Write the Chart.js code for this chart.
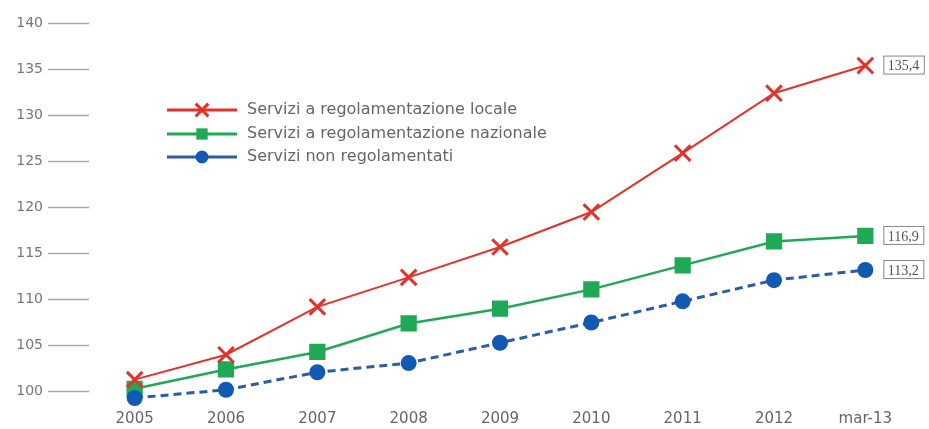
<!DOCTYPE html>
<html>
<head>
<meta charset="utf-8">
<script src="https://cdn.jsdelivr.net/npm/chart.js@4/dist/chart.umd.min.js"></script>
<style>
html,body{margin:0;padding:0;background:#fff;}
#wrap{width:929px;height:429px;position:relative;}
</style>
</head>
<body>
<div id="wrap"><canvas id="c" width="929" height="429"></canvas></div>
<script>
const categories = ["2005","2006","2007","2008","2009","2010","2011","2012","mar-13"];
const seriesNames = ["Servizi a regolamentazione locale","Servizi a regolamentazione nazionale","Servizi non regolamentati"];
const locale    = [101.3, 104.0, 109.2, 112.4, 115.7, 119.5, 125.9, 132.4, 135.4];
const nazionale = [100.3, 102.4, 104.3, 107.4, 109.0, 111.1, 113.7, 116.3, 116.9];
const nonRegol  = [99.3, 100.2, 102.1, 103.1, 105.3, 107.5, 109.8, 112.1, 113.2];
const endLabels = ["135,4","116,9","113,2"];
const yTicks = [100,105,110,115,120,125,130,135,140];

const RED = '#e3312b', GREEN = '#1fa855', BLUE = '#1159b3', BLUE_LINE = '#2b5ca8';

const legendPlugin = {
  id: 'customLegend',
  afterDatasetsDraw(chart) {
    const ctx = chart.ctx;
    const rows = [110, 134, 157];
    chart.data.datasets.forEach((ds, i) => {
      const y = rows[i];
      ctx.save();
      ctx.strokeStyle = ds.borderColor;
      ctx.lineWidth = 3;
      ctx.beginPath(); ctx.moveTo(167, y); ctx.lineTo(237, y); ctx.stroke();
      ctx.fillStyle = ds.pointBackgroundColor;
      ctx.strokeStyle = ds.pointBorderColor;
      Chart.helpers.drawPoint(ctx, {pointStyle: ds.pointStyle, radius: ds.legendRadius, rotation: 0, borderWidth: ds.pointBorderWidth}, 202, y);
      ctx.fillStyle = '#666';
      ctx.font = '16px "DejaVu Sans"';
      ctx.textBaseline = 'middle';
      ctx.fillText(seriesNames[i], 247, y);
      ctx.restore();
    });
  }
};

const endLabelPlugin = {
  id: 'endLabels',
  afterDatasetsDraw(chart) {
    const ctx = chart.ctx;
    chart.data.datasets.forEach((ds, i) => {
      const meta = chart.getDatasetMeta(i);
      const pt = meta.data[meta.data.length - 1];
      const x = pt.x + 18, y = pt.y;
      ctx.save();
      ctx.font = '14px "Liberation Serif"';
      const w = ctx.measureText(endLabels[i]).width + 9;
      ctx.fillStyle = '#fff';
      ctx.fillRect(x, y - 10, w, 19);
      ctx.strokeStyle = '#888';
      ctx.lineWidth = 1;
      ctx.strokeRect(x + 0.5, y - 9.5, w, 18);
      ctx.fillStyle = '#555';
      ctx.textBaseline = 'middle';
      ctx.fillText(endLabels[i], x + 4.5, y + 1);
      ctx.restore();
    });
  }
};

new Chart(document.getElementById('c'), {
  type: 'line',
  data: {
    labels: categories,
    datasets: [
      {label: seriesNames[0], data: locale, borderColor: RED, borderWidth: 2,
       pointStyle: 'crossRot', pointRadius: 11, pointBorderWidth: 3,
       pointBackgroundColor: RED, pointBorderColor: RED, legendRadius: 9, order: 1, tension: 0},
      {label: seriesNames[1], data: nazionale, borderColor: GREEN, borderWidth: 2.5,
       pointStyle: 'rect', pointRadius: 11.5, pointBorderWidth: 0,
       pointBackgroundColor: GREEN, pointBorderColor: GREEN, legendRadius: 8, order: 2, tension: 0},
      {label: seriesNames[2], data: nonRegol, borderColor: BLUE_LINE, borderWidth: 3, borderDash: [8,5],
       pointStyle: 'circle', pointRadius: 8, pointBorderWidth: 0,
       pointBackgroundColor: BLUE, pointBorderColor: BLUE, legendRadius: 6.5, order: 0, tension: 0}
    ]
  },
  options: {
    responsive: false,
    animation: false,
    events: [],
    layout: {padding: {top: 14, right: 18, bottom: 0, left: 0}},
    plugins: {legend: {display: false}, tooltip: {enabled: false}},
    scales: {
      x: {
        offset: true,
        grid: {display: false, drawTicks: false},
        border: {display: false},
        ticks: {color: '#666', font: {family: 'DejaVu Sans', size: 15, lineHeight: 1}, padding: 2, maxRotation: 0, autoSkip: false}
      },
      y: {
        min: 98, max: 141,
        afterBuildTicks(scale) { scale.ticks = yTicks.map(v => ({value: v})); },
        afterFit(scale) { scale.width = 89; },
        grid: {display: true, drawOnChartArea: false, drawTicks: true, tickLength: 41, tickWidth: 1.5, tickColor: '#aaa'},
        border: {display: false},
        ticks: {color: '#777', font: {family: 'DejaVu Sans', size: 14}, padding: 5}
      }
    }
  },
  plugins: [legendPlugin, endLabelPlugin]
});
</script>
</body>
</html>
